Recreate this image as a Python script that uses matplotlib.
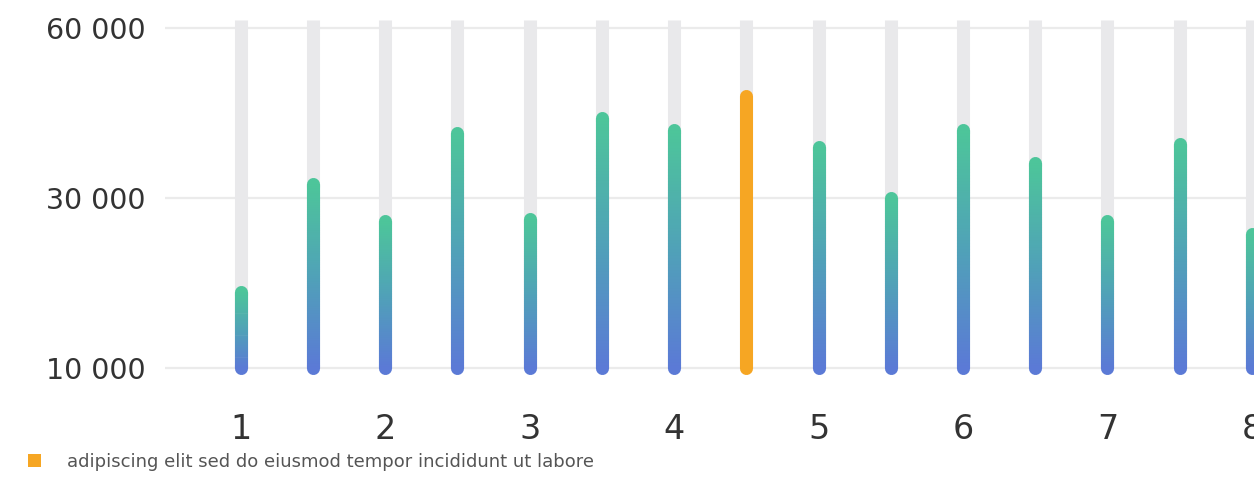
"""Rounded gradient bar chart with one highlighted bar and uneven y tick steps."""

import numpy as np
import matplotlib
matplotlib.use("Agg")
import matplotlib.pyplot as plt
from matplotlib.collections import LineCollection
from matplotlib.colors import to_rgb
from matplotlib.patches import Patch

# data
bar_values = [19000, 32500, 27300, 41500, 27500, 44200, 42000, 48000,
              39000, 30000, 42000, 36200, 27300, 39600, 25800]
highlight_index = 7
tick_labels = ["1", "2", "3", "4", "5", "6", "7", "8"]
y_ticks = [10000, 30000, 60000]
y_tick_labels = ["10 000", "30 000", "60 000"]
legend_label = "adipiscing elit sed do eiusmod tempor incididunt ut labore"

GREEN = "#4dc59a"
MID = "#50a2b8"
BLUE = "#5b7ad6"
ORANGE = "#f6a623"
TRACK = "#e9e9eb"
GRID = "#ebebeb"
TEXT = "#333333"

BAR_LW = 9.4  # points, ~13 px


def forward(y):
    y = np.asarray(y, dtype=float)
    return np.where(y <= 30000, (y - 10000) / 20000, 1 + (y - 30000) / 30000)


def inverse(t):
    t = np.asarray(t, dtype=float)
    return np.where(t <= 1, 10000 + t * 20000, 30000 + (t - 1) * 30000)


def gradient_colour(frac):
    # blue at the bottom, teal in the middle, green at the top
    c_bottom, c_mid, c_top = (np.array(to_rgb(c)) for c in (BLUE, MID, GREEN))
    if frac < 0.5:
        return c_bottom + (c_mid - c_bottom) * (frac / 0.5)
    return c_mid + (c_top - c_mid) * ((frac - 0.5) / 0.5)


fig = plt.figure(figsize=(12.54, 5.03), dpi=100)
ax = fig.add_axes([165 / 1254, 118 / 503, 1089 / 1254, 375 / 503])
ax.set_yscale("function", functions=(forward, inverse))

x_positions = np.arange(len(bar_values))
ax.set_xlim(-1.05, 14.03)
ax.set_ylim(float(inverse(-0.1)), float(inverse(2.106)))

for y in y_ticks:
    ax.axhline(y, color=GRID, lw=1.6, zorder=0)

# grey tracks behind every bar
track_top = float(inverse(2.047))
for x in x_positions:
    ax.plot([x, x], [10000, track_top], color=TRACK, lw=BAR_LW,
            solid_capstyle="butt", zorder=1)

n_steps = 80

for i, (x, value) in enumerate(zip(x_positions, bar_values)):
    if i == highlight_index:
        ax.plot([x, x], [10000, value], color=ORANGE, lw=BAR_LW,
                solid_capstyle="round", zorder=2)
        continue
    t_top = float(forward(value))
    # round bottom cap in blue, round top cap in green
    ax.plot([x, x], [10000, float(inverse(0.02))], color=BLUE, lw=BAR_LW,
            solid_capstyle="round", zorder=2)
    ax.plot([x, x], [float(inverse(t_top - 0.02)), value], color=GREEN, lw=BAR_LW,
            solid_capstyle="round", zorder=2)
    ts = np.linspace(0, t_top, n_steps + 1)
    ys = inverse(ts)
    segments = []
    colors = []
    for k in range(n_steps):
        k_end = min(k + 2, n_steps)
        segments.append([(x, ys[k]), (x, ys[k_end])])
        colors.append(gradient_colour(k / (n_steps - 1)))
    lc = LineCollection(segments, colors=colors, linewidths=BAR_LW,
                        capstyle="butt", zorder=3)
    ax.add_collection(lc)

ax.set_xticks(x_positions[::2])
ax.set_xticklabels(tick_labels, fontsize=24, color=TEXT)
ax.set_yticks(y_ticks)
ax.set_yticklabels(y_tick_labels, fontsize=20.5, color=TEXT)
ax.tick_params(axis="x", length=0, pad=20)
ax.tick_params(axis="y", length=0, pad=14)
ax.yaxis.set_minor_locator(matplotlib.ticker.NullLocator())
for spine in ax.spines.values():
    spine.set_visible(False)

handle = Patch(facecolor=ORANGE, edgecolor="none")
fig.legend([handle], [legend_label], loc="center left",
           bbox_to_anchor=(28 / 1254, 1 - 462 / 503), frameon=False,
           fontsize=13, labelcolor="#555555", handlelength=0.7,
           handleheight=0.7, handletextpad=1.45, borderpad=0, borderaxespad=0)

fig.savefig("out.png", dpi=100)
plt.close(fig)
